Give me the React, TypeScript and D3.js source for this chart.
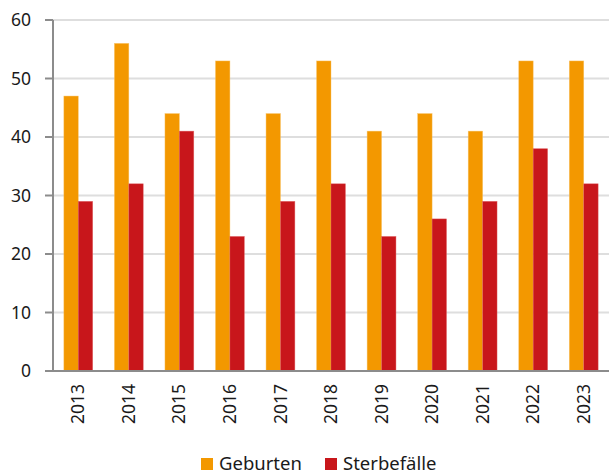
import { useMemo } from "react";
import * as d3 from "d3";

const years = ["2013", "2014", "2015", "2016", "2017", "2018", "2019", "2020", "2021", "2022", "2023"];
const geburten = [47, 56, 44, 53, 44, 53, 41, 44, 41, 53, 53];
const sterbefaelle = [29, 32, 41, 23, 29, 32, 23, 26, 29, 38, 32];
const yTicks = [0, 10, 20, 30, 40, 50, 60];
const seriesNames = ["Geburten", "Sterbefälle"];
const colors = ["#f39800", "#c8161b"];

const WIDTH = 609;
const HEIGHT = 476;
const MARGIN = { top: 20, right: 0, bottom: 105, left: 53 };
const FONT = "'Source Sans Pro', 'Noto Sans', 'Open Sans', sans-serif";

export default function App() {
  const boundsHeight = HEIGHT - MARGIN.top - MARGIN.bottom;
  const boundsWidth = WIDTH - MARGIN.left - MARGIN.right;

  const xScale = useMemo(
    () => d3.scaleBand().domain(years).range([0, boundsWidth]).paddingInner(0.43).paddingOuter(0.215),
    [boundsWidth]
  );
  const inner = useMemo(
    () => d3.scaleBand().domain(seriesNames).range([0, xScale.bandwidth()]),
    [xScale]
  );
  const yScale = useMemo(() => d3.scaleLinear().domain([0, 60]).range([boundsHeight, 0]), [boundsHeight]);

  const series = [geburten, sterbefaelle];

  return (
    <svg width={WIDTH} height={HEIGHT} style={{ position: "absolute", left: 0, top: 0 }}>
      <g transform={`translate(${MARGIN.left},${MARGIN.top})`}>
        {yTicks.map((t) => (
          <g key={t} transform={`translate(0,${yScale(t)})`}>
            {t > 0 && <line x1={0} x2={boundsWidth} stroke="#dedede" strokeWidth={2} />}
            <line x1={-8} x2={0} stroke="#8c8c8c" strokeWidth={2} />
            <text
              x={-22}
              dy="0.35em"
              textAnchor="end"
              fontFamily={FONT}
              fontSize={17.5}
              fill="#1a1a1a"
            >
              {t}
            </text>
          </g>
        ))}
        {years.map((yr, i) => (
          <g key={yr} transform={`translate(${xScale(yr)},0)`}>
            {series.map((vals, s) => (
              <rect
                key={s}
                x={inner(seriesNames[s])}
                y={yScale(vals[i])}
                width={inner.bandwidth()}
                height={boundsHeight - yScale(vals[i])}
                fill={colors[s]}
                stroke={s === 0 ? "#f8c060" : "#e06060"}
                strokeWidth={0.6}
                strokeOpacity={0.7}
              />
            ))}
            <text
              transform={`translate(${xScale.bandwidth() / 2},${boundsHeight + 13}) rotate(-90)`}
              dy="0.35em"
              textAnchor="end"
              fontFamily={FONT}
              fontSize={17.5}
              fill="#1a1a1a"
            >
              {yr}
            </text>
          </g>
        ))}
        <line x1={0} x2={0} y1={0} y2={boundsHeight} stroke="#8c8c8c" strokeWidth={2} />
        <line x1={-8} x2={boundsWidth} y1={boundsHeight} y2={boundsHeight} stroke="#8c8c8c" strokeWidth={2} />
      </g>
      <g transform="translate(201,464)">
        {seriesNames.map((name, s) => (
          <g key={name} transform={`translate(${s * 124},0)`}>
            <rect x={0} y={-6} width={12} height={12} fill={colors[s]} />
            <text x={18} dy="0.35em" fontFamily={FONT} fontSize={18.5} fill="#1a1a1a">
              {name}
            </text>
          </g>
        ))}
      </g>
    </svg>
  );
}
